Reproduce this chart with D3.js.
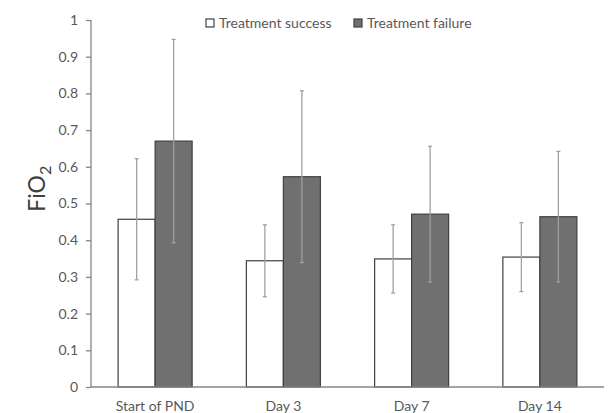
<!DOCTYPE html>
<html>
<head>
<meta charset="utf-8">
<script src="https://cdn.jsdelivr.net/npm/d3@7"></script>
<style>
    body { margin: 0; background: #fff; }
    text { font-family: Lato, "Liberation Sans", sans-serif; }
</style>
</head>
<body>
<div id="chart"></div>
<script>
// Data
var categories = ["Start of PND", "Day 3", "Day 7", "Day 14"];
var seriesNames = ["Treatment success", "Treatment failure"];
var successMean = [0.457, 0.344, 0.349, 0.354];
var successSd = [0.165, 0.098, 0.093, 0.094];
var failureMean = [0.670, 0.573, 0.471, 0.464];
var failureSd = [0.277, 0.234, 0.185, 0.178];
var yTicks = [0, 0.1, 0.2, 0.3, 0.4, 0.5, 0.6, 0.7, 0.8, 0.9, 1];

var fills = ["#ffffff", "#707070"];

var margin = { top: 20, right: 7, bottom: 26, left: 91 };
var width = 611 - margin.left - margin.right;
var height = 413 - margin.top - margin.bottom;

var svg = d3.select("#chart").append("svg")
    .attr("width", 611)
    .attr("height", 413)
    .append("g")
    .attr("transform", "translate(" + margin.left + "," + margin.top + ")");

// build rows for grouped bars
var rows = [];
categories.forEach(function(c, i) {
    rows.push({ cat: c, series: seriesNames[0], mean: successMean[i], sd: successSd[i] });
    rows.push({ cat: c, series: seriesNames[1], mean: failureMean[i], sd: failureSd[i] });
});

var x0 = d3.scaleBand()
    .domain(categories)
    .range([0, width])
    .paddingInner(0.423)
    .paddingOuter(0.2115);

var x1 = d3.scaleBand()
    .domain(seriesNames)
    .range([0, x0.bandwidth()]);

var y = d3.scaleLinear()
    .domain([0, 1])
    .range([height, 0]);

var color = d3.scaleOrdinal().domain(seriesNames).range(fills);

// Bars
svg.selectAll(".bar")
    .data(rows)
    .enter().append("rect")
    .attr("class", "bar")
    .attr("x", function(d) { return x0(d.cat) + x1(d.series); })
    .attr("y", function(d) { return y(d.mean); })
    .attr("width", x1.bandwidth())
    .attr("height", function(d) { return height - y(d.mean); })
    .attr("fill", function(d) { return color(d.series); })
    .attr("stroke", "#404040")
    .attr("stroke-width", 1.2);

// Error bars
var err = svg.selectAll(".err")
    .data(rows)
    .enter().append("g")
    .attr("class", "err")
    .attr("transform", function(d) {
        return "translate(" + (x0(d.cat) + x1(d.series) + x1.bandwidth() / 2) + ",0)";
    });

err.append("line")
    .attr("y1", function(d) { return y(d.mean - d.sd); })
    .attr("y2", function(d) { return y(d.mean + d.sd); })
    .attr("stroke", "#a0a0a0")
    .attr("stroke-width", 1.3);

err.append("line")
    .attr("x1", -2).attr("x2", 2)
    .attr("y1", function(d) { return y(d.mean + d.sd); })
    .attr("y2", function(d) { return y(d.mean + d.sd); })
    .attr("stroke", "#a0a0a0")
    .attr("stroke-width", 1.3);

err.append("line")
    .attr("x1", -2).attr("x2", 2)
    .attr("y1", function(d) { return y(d.mean - d.sd); })
    .attr("y2", function(d) { return y(d.mean - d.sd); })
    .attr("stroke", "#a0a0a0")
    .attr("stroke-width", 1.3);

// Y axis
var yAxis = d3.axisLeft(y)
    .tickValues(yTicks)
    .tickFormat(function(d) { return d3.format("")(d); })
    .tickSize(5)
    .tickPadding(8);

var yG = svg.append("g").call(yAxis);
yG.select(".domain").attr("stroke", "#868686").attr("stroke-width", 1.3).attr("d", "M0,0V" + height);
yG.selectAll(".tick line").attr("stroke", "#868686").attr("stroke-width", 1.3);
yG.selectAll(".tick text")
    .attr("fill", "#595959")
    .attr("font-size", 14)
    .style("font-family", "Lato, 'Liberation Sans', sans-serif");

// X axis
var xAxis = d3.axisBottom(x0).tickSize(0).tickPadding(14);
var xG = svg.append("g")
    .attr("transform", "translate(0," + height + ")")
    .call(xAxis);
xG.select(".domain").attr("stroke", "#868686").attr("stroke-width", 1.3).attr("d", "M0,0H" + width);
xG.selectAll(".tick text")
    .attr("fill", "#595959")
    .attr("font-size", 14)
    .style("font-family", "Lato, 'Liberation Sans', sans-serif");

// Y title: FiO2
var yTitle = svg.append("text")
    .attr("transform", "translate(" + (45 - margin.left) + "," + (y(0.54)) + ") rotate(-90)")
    .attr("text-anchor", "middle")
    .attr("fill", "#404040")
    .attr("font-size", 23);
yTitle.append("tspan").text("FiO");
yTitle.append("tspan").attr("font-size", 16).attr("dy", 6).text("2");

// Legend
var legendX = [206, 354];
var legend = svg.selectAll(".legend")
    .data(seriesNames)
    .enter().append("g")
    .attr("class", "legend")
    .attr("transform", function(d, i) {
        return "translate(" + (legendX[i] - margin.left) + "," + (19 - margin.top) + ")";
    });

legend.append("rect")
    .attr("width", 8)
    .attr("height", 8)
    .attr("fill", function(d) { return color(d); })
    .attr("stroke", "#404040")
    .attr("stroke-width", 1.2);

legend.append("text")
    .attr("x", 13)
    .attr("y", 9)
    .attr("fill", "#595959")
    .attr("font-size", 14)
    .text(function(d) { return d; });
</script>
</body>
</html>
